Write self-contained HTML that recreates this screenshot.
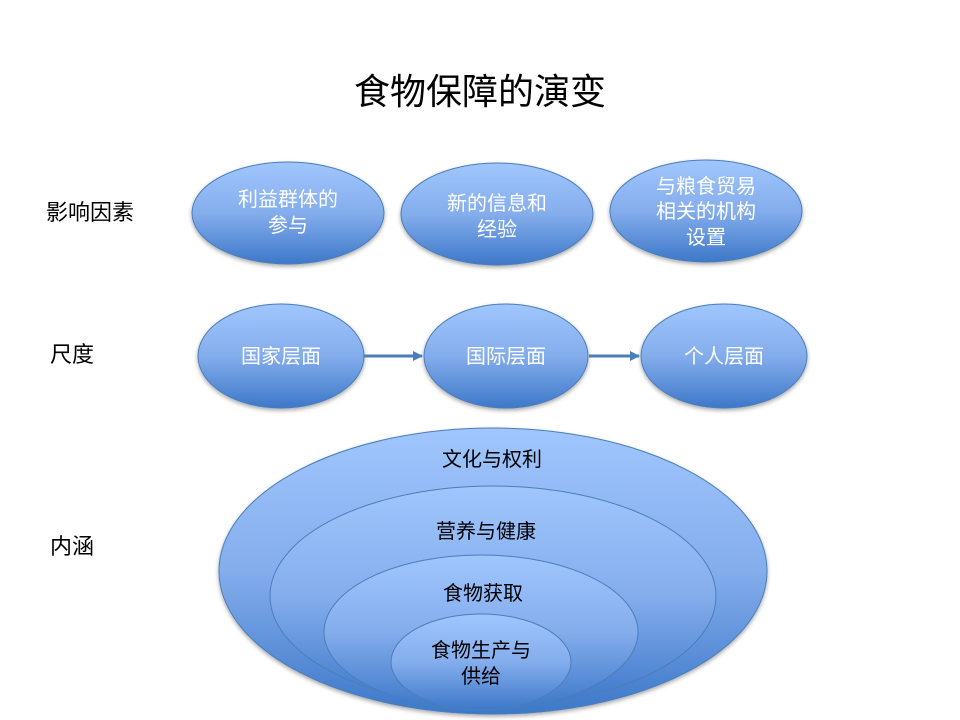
<!DOCTYPE html>
<html><head><meta charset="utf-8"><style>
body{margin:0;background:#fff;}
svg{display:block;font-family:"Liberation Sans","Noto Sans CJK SC",sans-serif;}
</style></head><body>
<svg width="960" height="720" viewBox="0 0 960 720" xmlns="http://www.w3.org/2000/svg">
<defs>
<linearGradient id="g" x1="0" y1="0" x2="0" y2="1">
<stop offset="0" stop-color="#a0c6fd"/><stop offset="0.5" stop-color="#84adec"/><stop offset="1" stop-color="#3d78c9"/>
</linearGradient>
<filter id="s" x="-10%" y="-10%" width="120%" height="130%"><feDropShadow dx="0" dy="2" stdDeviation="2" flood-color="#000" flood-opacity="0.35"/></filter>
<marker id="a" markerWidth="10" markerHeight="10" refX="9" refY="5" orient="auto" markerUnits="userSpaceOnUse"><path d="M0,0 L10,5 L0,10 z" fill="#4a7ebb"/></marker>
</defs>
<text x="480" y="104" font-size="36" text-anchor="middle" fill="#000">食物保障的演变</text>
<g font-size="22" fill="#000">
<text x="46" y="220">影响因素</text>
<text x="50" y="362">尺度</text>
<text x="50" y="554">内涵</text>
</g>
<g stroke="#4a7ebb" stroke-width="1" fill="url(#g)" filter="url(#s)">
<ellipse cx="288" cy="213" rx="96" ry="51"/>
<ellipse cx="497" cy="214" rx="96" ry="51"/>
<ellipse cx="706" cy="211" rx="96" ry="51"/>
<ellipse cx="281" cy="356" rx="83" ry="52"/>
<ellipse cx="506" cy="356" rx="82" ry="52"/>
<ellipse cx="724" cy="356" rx="83" ry="52"/>
</g>
<g stroke="#4a7ebb" stroke-width="3">
<line x1="364" y1="356" x2="422" y2="356" marker-end="url(#a)"/>
<line x1="589" y1="356" x2="639" y2="356" marker-end="url(#a)"/>
</g>
<g font-size="20" fill="#fff" text-anchor="middle">
<text x="288" y="206">利益群体的</text><text x="288" y="232">参与</text>
<text x="497" y="210">新的信息和</text><text x="497" y="236">经验</text>
<text x="706" y="193">与粮食贸易</text><text x="706" y="218">相关的机构</text><text x="706" y="244">设置</text>
<text x="281" y="363">国家层面</text>
<text x="506" y="363">国际层面</text>
<text x="724" y="363">个人层面</text>
</g>
<g stroke="#4a7ebb" stroke-width="1" fill="url(#g)">
<ellipse cx="493" cy="571" rx="274" ry="143" filter="url(#s)"/>
<ellipse cx="493" cy="596" rx="223" ry="110"/>
<ellipse cx="481" cy="632" rx="157" ry="77"/>
<ellipse cx="481" cy="662" rx="90" ry="48"/>
</g>
<g font-size="20" fill="#000" text-anchor="middle">
<text x="492" y="466">文化与权利</text>
<text x="486" y="538">营养与健康</text>
<text x="483" y="600">食物获取</text>
<text x="481" y="657">食物生产与</text>
<text x="481" y="683">供给</text>
</g>
</svg>
</body></html>
